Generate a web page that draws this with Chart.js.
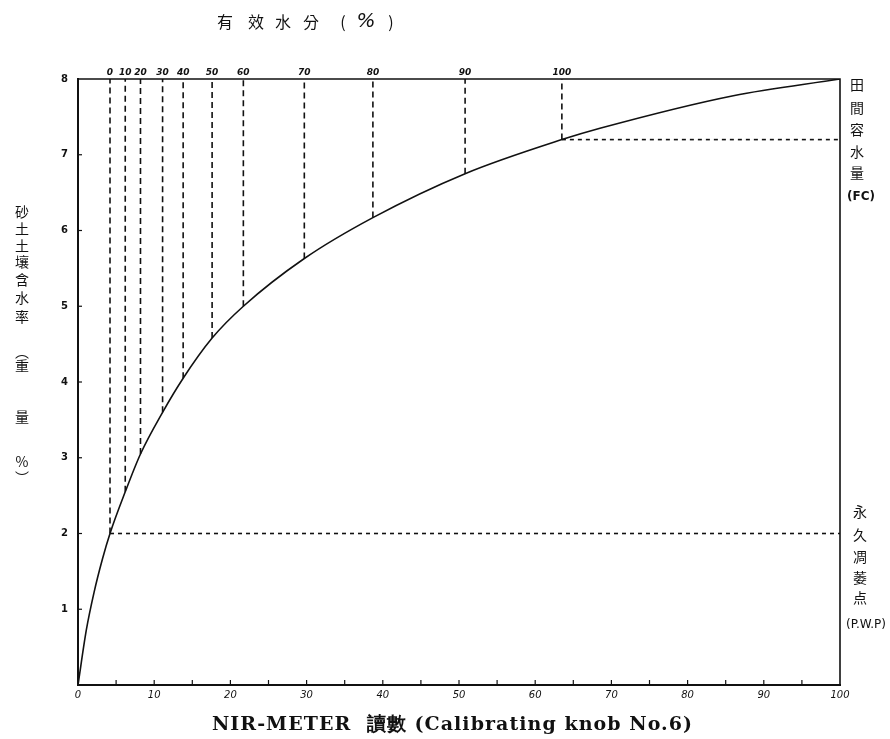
<!DOCTYPE html>
<html>
<head>
<meta charset="utf-8">
<script src="https://cdn.jsdelivr.net/npm/chart.js@4/dist/chart.umd.min.js"></script>
<style>
  html, body { margin: 0; padding: 0; background: #fff; }
  #wrap { width: 890px; height: 739px; }
</style>
</head>
<body>
<div id="wrap"><canvas id="myChart" width="890" height="739"></canvas></div>
<script>
// NIR-meter reading vs soil water content
const curveX = [0, 1.1, 2.1, 3.2, 4.2, 6.2, 8.2, 11.1, 13.8, 17.6, 21.7, 29.7, 38.7, 50.8, 63.5, 68.5, 86, 100];
const curveY = [0, 0.73, 1.22, 1.66, 2.0, 2.55, 3.05, 3.6, 4.05, 4.58, 5.0, 5.63, 6.17, 6.75, 7.2, 7.35, 7.78, 8.0];

// available water (%) guide lines: reading where each % meets the curve
const waterPos = [4.2, 6.2, 8.2, 11.1, 13.8, 17.6, 21.7, 29.7, 38.7, 50.8, 63.5];
const waterMeet = [2.0, 2.55, 3.05, 3.6, 4.05, 4.58, 5.0, 5.63, 6.17, 6.75, 7.2];
const waterLabels = ['0', '10', '20', '30', '40', '50', '60', '70', '80', '90', '100'];

const pwp = 2.0;   // 永久凋萎点
const fc = 7.2;    // 田間容水量

const xLabels = ['0', '10', '20', '30', '40', '50', '60', '70', '80', '90', '100'];
const yLabels = ['', '1', '2', '3', '4', '5', '6', '7', '8'];

const ink = '#111';

let guideSets = waterPos.map((p, i) => ({
  data: [{x: p, y: waterMeet[i]}, {x: p, y: 8}],
  showLine: true,
  borderColor: ink,
  borderWidth: 1.6,
  borderDash: [6, 4],
  pointRadius: 0
}));

// draw text centred at x so that it spans roughly `width` pixels
const spreadText = (ctx, t, x, y, width) => {
  let w = ctx.measureText(t).width;
  let sp = Math.max(0, (width - w) / t.length);
  ctx.letterSpacing = sp.toFixed(2) + 'px';
  ctx.fillText(t, x + sp / 2, y);
  ctx.letterSpacing = '0px';
};

const frameAndLabels = {
  id: 'frameAndLabels',
  afterDraw(chart) {
    const ctx = chart.ctx;
    const a = chart.chartArea;
    const sx = chart.scales.x, sy = chart.scales.y;
    ctx.save();
    ctx.strokeStyle = ink;
    // top & right border of the box
    ctx.lineWidth = 1.6;
    ctx.beginPath();
    ctx.moveTo(a.left, a.top);
    ctx.lineTo(a.right, a.top);
    ctx.lineTo(a.right, a.bottom);
    ctx.stroke();
    // small inward tick marks
    ctx.lineWidth = 1.2;
    for (let v = 5; v < 100; v += 5) {
      let px = sx.getPixelForValue(v);
      ctx.beginPath();
      ctx.moveTo(px, a.bottom);
      ctx.lineTo(px, a.bottom - 5);
      ctx.stroke();
    }
    for (let v = 1; v < 8; v++) {
      let py = sy.getPixelForValue(v);
      ctx.beginPath();
      ctx.moveTo(a.left, py);
      ctx.lineTo(a.left + 4, py);
      ctx.stroke();
    }

    ctx.fillStyle = ink;
    ctx.textAlign = 'center';
    ctx.textBaseline = 'middle';

    // top title
    ctx.font = '16px "Noto Sans CJK TC"';
    const topChars = ['有', '效', '水', '分', '(', '%', ')'];
    const topX = [225, 256, 283, 311, 343, 366, 391];
    topChars.forEach((c, i) => {
      ctx.font = c === '%' ? 'italic 20px "DejaVu Sans"' : '16px "Noto Sans CJK TC"';
      ctx.fillText(c, topX[i], 22);
    });

    // bottom title
    ctx.font = 'bold 19px "DejaVu Serif"';
    spreadText(ctx, 'NIR-METER  讀數 (Calibrating knob No.6)', 452, 725, 481);

    // left vertical title
    ctx.font = '14px "Noto Sans CJK TC"';
    const leftChars = ['砂', '土', '土', '壤', '含', '水', '率', '︵', '重', '量', '%', '︶'];
    const leftY = [212, 229, 246, 262, 280, 298, 317, 352, 366, 417, 462, 478];
    leftChars.forEach((c, i) => ctx.fillText(c, 22, leftY[i]));

    // right labels
    ctx.font = '14px "Noto Sans CJK TC"';
    const fcChars = ['田', '間', '容', '水', '量'];
    const fcY = [85, 108, 130, 152, 173];
    fcChars.forEach((c, i) => ctx.fillText(c, 857, fcY[i]));
    ctx.font = 'bold 12px "DejaVu Sans"';
    ctx.fillText('(FC)', 861, 197);

    ctx.font = '14px "Noto Sans CJK TC"';
    const pwpChars = ['永', '久', '凋', '萎', '点'];
    const pwpY = [512, 535, 557, 578, 598];
    pwpChars.forEach((c, i) => ctx.fillText(c, 860, pwpY[i]));
    ctx.font = '12px "DejaVu Sans"';
    ctx.fillText('(P.W.P)', 866, 625);
    ctx.restore();
  }
};

const renderGraph = () => {
  let myChart = document.getElementById('myChart').getContext('2d');
  new Chart(myChart, {
    type: 'scatter',
    data: {
      datasets: [{
        data: curveX.map((x, i) => ({x: x, y: curveY[i]})),
        showLine: true,
        borderColor: ink,
        borderWidth: 1.6,
        pointRadius: 0,
        cubicInterpolationMode: 'monotone'
      }, {
        data: [{x: waterPos[0], y: pwp}, {x: 100, y: pwp}],
        showLine: true,
        borderColor: ink,
        borderWidth: 1.6,
        borderDash: [4, 4],
        pointRadius: 0
      }, {
        data: [{x: waterPos[waterPos.length - 1], y: fc}, {x: 100, y: fc}],
        showLine: true,
        borderColor: ink,
        borderWidth: 1.6,
        borderDash: [4, 4],
        pointRadius: 0
      }].concat(guideSets)
    },
    options: {
      responsive: false,
      animation: false,
      layout: { padding: { left: 0, right: 50, top: 0, bottom: 0 } },
      plugins: {
        legend: { display: false },
        tooltip: { enabled: false }
      },
      scales: {
        x: {
          type: 'linear',
          position: 'bottom',
          min: 0,
          max: 100,
          grid: { display: false, drawTicks: false },
          border: { display: true, color: ink, width: 2 },
          ticks: {
            stepSize: 10,
            padding: 4,
            color: ink,
            font: { family: 'DejaVu Sans', size: 10, style: 'italic' },
            callback: (v, i) => xLabels[i]
          },
          afterFit: (s) => { s.height = 54; }
        },
        xTop: {
          type: 'linear',
          position: 'top',
          min: 0,
          max: 100,
          grid: { display: false, drawTicks: false },
          border: { display: false },
          afterBuildTicks: (s) => { s.ticks = waterPos.map(v => ({value: v})); },
          ticks: {
            autoSkip: false,
            maxRotation: 0,
            padding: 1,
            color: ink,
            font: { family: 'DejaVu Sans', size: 9, style: 'italic', weight: 'bold' },
            callback: (v, i) => waterLabels[i]
          },
          afterFit: (s) => { s.height = 79; }
        },
        y: {
          min: 0,
          max: 8,
          grid: { display: false, drawTicks: false },
          border: { display: true, color: ink, width: 2 },
          ticks: {
            stepSize: 1,
            padding: 10,
            color: ink,
            font: { family: 'DejaVu Sans', size: 10, weight: 'bold' },
            callback: (v, i) => yLabels[i]
          },
          afterFit: (s) => { s.width = 78; }
        }
      }
    },
    plugins: [frameAndLabels]
  });
};

renderGraph();
</script>
</body>
</html>
